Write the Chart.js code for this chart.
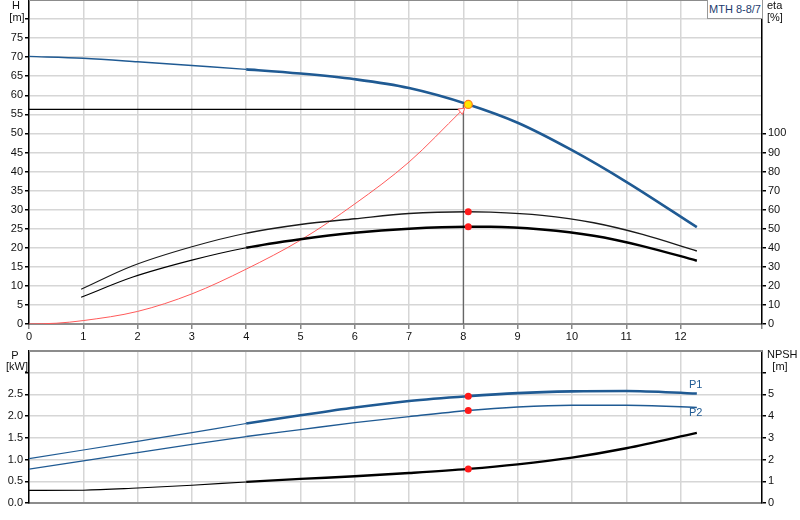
<!DOCTYPE html>
<html>
<head>
<meta charset="utf-8">
<title>MTH 8-8/7</title>
<script src="https://cdn.jsdelivr.net/npm/chart.js@4.4.0/dist/chart.umd.min.js"></script>
<style>
  body { margin: 0; background: #fff; }
  #wrap { position: relative; width: 800px; height: 520px; overflow: hidden; }
  canvas { position: absolute; left: 0; }
  #topChart { top: 0; }
  #bottomChart { top: 345px; }
  #pumpName {
    position: absolute; left: 707px; top: 0; width: 54px; height: 18px;
    border: 1px solid #999; border-top: none; background: #fff;
    font: 11px "Liberation Sans", Arial, sans-serif; color: #1c3c6e;
    text-align: center; line-height: 18px;
  }
</style>
</head>
<body>
<div id="wrap">
  <canvas id="topChart" width="800" height="345"></canvas>
  <canvas id="bottomChart" width="800" height="175"></canvas>
  <div id="pumpName">MTH 8-8/7</div>
</div>
<script>
// Head curve (Q in m³/h, H in m)
const qHead = [0, 1, 2, 3, 4, 5, 6, 7, 8.09, 9, 10, 11, 12.3];
const head = [70.2, 69.7, 68.8, 67.8, 66.8, 65.7, 64.2, 61.9, 57.6, 52.8, 45.6, 37.3, 25.4];

// Efficiency curves (eta in %)
const qEta = [0.96, 1.9, 3, 4, 5, 6, 7, 8.09, 8.5, 9.45, 10.4, 11.3, 12.3];
const etaUpper = [18.2, 30.4, 40.5, 47.6, 52.2, 55.2, 58.0, 58.9, 58.7, 57.0, 53.1, 47.0, 38.3];
const etaLower = [14.0, 24.5, 33.5, 40.0, 44.5, 47.9, 50.0, 51.0, 51.0, 49.6, 46.3, 40.9, 33.2];

// System curve (red)
const qSystem = [0, 0.5, 1, 2, 3, 4, 5, 6, 7, 7.97];
const hSystem = [0, 0.2, 0.9, 3.3, 7.9, 14.4, 22.0, 31.5, 42.5, 56.0];

// Power (kW) and NPSH (m)
const qPower = [0, 1, 2, 3, 4, 5, 6, 7, 8.09, 9, 10, 11, 12.3];
const powerP1 = [1.02, 1.22, 1.42, 1.62, 1.83, 2.02, 2.2, 2.35, 2.46, 2.53, 2.57, 2.58, 2.52];
const powerP2 = [0.78, 0.97, 1.16, 1.35, 1.53, 1.69, 1.85, 1.99, 2.13, 2.21, 2.25, 2.25, 2.20];
const npsh = [0.58, 0.59, 0.69, 0.82, 0.97, 1.11, 1.23, 1.38, 1.57, 1.78, 2.09, 2.52, 3.23];

// Duty point
const dutyQ = 8.09;
const dutyH = 57.6;
const dutyEta = [58.9, 51.0];
const dutyP = [2.46, 2.13];
const dutyNpsh = 1.57;
const dutyLineQ = 8.0;
const dutyLineH = 56.3;

const BLUE = '#1f5a93';
const GRID = '#d6d6d6';
const THICK_FROM = 4;

Chart.defaults.font.family = '"Liberation Sans", Arial, sans-serif';
Chart.defaults.font.size = 11;
Chart.defaults.color = '#111';

function pairs(xs, ys) {
    return xs.map((x, i) => ({ x: x, y: ys[i] }));
}

function curve(qs, vals, color, thin, thick, yAxisID) {
    return {
        data: pairs(qs, vals),
        yAxisID: yAxisID,
        borderColor: color,
        borderWidth: thin,
        pointRadius: 0,
        cubicInterpolationMode: 'monotone',
        segment: {
            borderWidth: ctx => ctx.p0.parsed.x >= THICK_FROM ? thick : thin
        }
    };
}

function dots(points, color, yAxisID) {
    return {
        data: points,
        yAxisID: yAxisID,
        showLine: false,
        pointRadius: 3.5,
        pointBackgroundColor: color,
        pointBorderColor: color,
        pointBorderWidth: 0
    };
}

// draws the top frame line plus axis titles / curve labels
const frameAndTitles = {
    id: 'frameAndTitles',
    afterDraw(chart, args, opts) {
        const { ctx, chartArea } = chart;
        ctx.save();
        ctx.strokeStyle = '#8c8c8c';
        ctx.lineWidth = 2;
        ctx.beginPath();
        ctx.moveTo(chartArea.left, chartArea.top);
        ctx.lineTo(chartArea.right, chartArea.top);
        ctx.stroke();
        ctx.font = '11px "Liberation Sans", Arial, sans-serif';
        ctx.textBaseline = 'middle';
        (opts.items || []).forEach(t => {
            let x = t.x, y = t.y;
            if (t.q !== undefined) {
                x = chart.scales.x.getPixelForValue(t.q);
                y = chart.scales[t.axis].getPixelForValue(t.v) + t.dy;
            }
            ctx.fillStyle = t.color || '#111';
            ctx.textAlign = t.align || 'center';
            ctx.fillText(t.text, x, y);
        });
        ctx.restore();
    }
};

function noPadding(s) {
    s.paddingTop = 0;
    s.paddingBottom = 0;
    s.paddingLeft = 0;
    s.paddingRight = 0;
}

function xScale(showLabels, height) {
    return {
        type: 'linear',
        min: 0,
        max: 13.5,
        afterFit: s => { s.height = height; noPadding(s); },
        grid: { color: GRID, lineWidth: 1.5, drawTicks: showLabels, tickLength: 5, tickColor: '#888' },
        border: { color: '#8c8c8c', width: 2 },
        ticks: {
            display: showLabels,
            stepSize: 1,
            autoSkip: false,
            maxRotation: 0,
            padding: 1,
            maxTicksLimit: 100,
            callback: v => v === 13 ? 'Q [m³/h]' : (Number.isInteger(v) ? String(v) : '')
        }
    };
}

function yScale(position, max, step, lastLabel, tickTop, fmt, width, onArea) {
    return {
        type: 'linear',
        position: position,
        min: 0,
        max: max,
        afterFit: s => { s.width = width; noPadding(s); },
        grid: {
            drawOnChartArea: onArea,
            color: GRID,
            lineWidth: 1.5,
            tickLength: 4,
            tickColor: ctx => ctx.tick && ctx.tick.value <= tickTop ? '#000' : 'rgba(0,0,0,0)'
        },
        border: { color: '#000', width: 1.5 },
        ticks: {
            stepSize: step,
            autoSkip: false,
            padding: 2,
            maxTicksLimit: 100,
            callback: v => v <= lastLabel ? fmt(v) : ''
        }
    };
}

const common = {
    responsive: false,
    animation: false,
    devicePixelRatio: 1,
    events: []
};

new Chart(document.getElementById('topChart'), {
    type: 'line',
    data: {
        datasets: [
            {
                data: [{ x: dutyQ, y: dutyH }],
                showLine: false,
                pointRadius: 4,
                pointBackgroundColor: '#ffe600',
                pointBorderColor: '#ff7a1a',
                pointBorderWidth: 1.2
            },
            dots([{ x: dutyQ, y: dutyEta[0] }, { x: dutyQ, y: dutyEta[1] }], '#ff1a1a', 'y2'),
            curve(qHead, head, BLUE, 1.4, 2.6, 'y'),
            curve(qEta, etaLower, '#000', 1.1, 2.4, 'y2'),
            curve(qEta, etaUpper, '#1a1a1a', 1.1, 1.4, 'y2'),
            {
                data: pairs(qSystem, hSystem),
                yAxisID: 'y',
                borderColor: '#ff5a5a',
                borderWidth: 1,
                cubicInterpolationMode: 'monotone',
                pointRadius: ctx => ctx.dataIndex === qSystem.length - 1 ? 4 : 0,
                pointStyle: 'triangle',
                rotation: 50,
                pointBackgroundColor: '#fff',
                pointBorderColor: '#ff5a5a',
                pointBorderWidth: 1
            },
            {
                data: [{ x: 0, y: dutyLineH }, { x: dutyLineQ, y: dutyLineH }],
                yAxisID: 'y',
                borderColor: '#000',
                borderWidth: 1.2,
                pointRadius: 0
            },
            {
                data: [{ x: dutyLineQ, y: 0 }, { x: dutyLineQ, y: dutyH }],
                yAxisID: 'y',
                borderColor: '#666',
                borderWidth: 1.3,
                pointRadius: 0
            }
        ]
    },
    options: {
        ...common,
        layout: { autoPadding: false, padding: 0 },
        plugins: {
            legend: { display: false },
            tooltip: { enabled: false },
            frameAndTitles: {
                items: [
                    { text: 'H', x: 16, y: 6 },
                    { text: '[m]', x: 17, y: 18 },
                    { text: 'eta', x: 767, y: 6, align: 'left' },
                    { text: '[%]', x: 767, y: 18, align: 'left' }
                ]
            }
        },
        scales: {
            x: xScale(true, 21),
            y: yScale('left', 85, 5, 75, 80, v => String(v), 29, true),
            y2: yScale('right', 170, 10, 100, 100, v => String(v), 38, false)
        }
    },
    plugins: [frameAndTitles]
});

new Chart(document.getElementById('bottomChart'), {
    type: 'line',
    data: {
        datasets: [
            dots([{ x: dutyQ, y: dutyP[0] }, { x: dutyQ, y: dutyP[1] }], '#ff1a1a', 'y'),
            dots([{ x: dutyQ, y: dutyNpsh }], '#ff1a1a', 'y2'),
            curve(qPower, powerP1, BLUE, 1.2, 2.6, 'y'),
            curve(qPower, powerP2, BLUE, 1.2, 1.4, 'y'),
            curve(qPower, npsh, '#000', 1.1, 2.4, 'y2')
        ]
    },
    options: {
        ...common,
        layout: { autoPadding: false, padding: { top: 6, left: 0, right: 0, bottom: 0 } },
        plugins: {
            legend: { display: false },
            tooltip: { enabled: false },
            frameAndTitles: {
                items: [
                    { text: 'P', x: 15, y: 11 },
                    { text: '[kW]', x: 17, y: 22 },
                    { text: 'NPSH', x: 767, y: 10, align: 'left' },
                    { text: '[m]', x: 780, y: 22 },
                    { text: 'P1', q: 12.28, v: powerP1[powerP1.length - 1], axis: 'y', dy: -9, color: BLUE },
                    { text: 'P2', q: 12.28, v: powerP2[powerP2.length - 1], axis: 'y', dy: 6, color: BLUE }
                ]
            }
        },
        scales: {
            x: xScale(false, 17),
            y: yScale('left', 3.5, 0.5, 2.5, 3.0, v => v.toFixed(1), 29, true),
            y2: yScale('right', 7, 1, 5, 6, v => String(v), 38, false)
        }
    },
    plugins: [frameAndTitles]
});
</script>
</body>
</html>
